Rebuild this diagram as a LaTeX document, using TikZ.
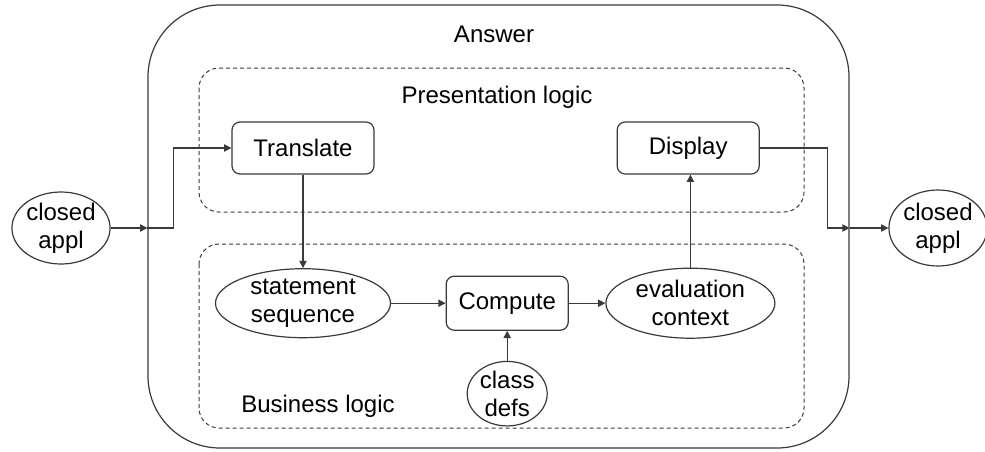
\documentclass[tikz,border=0pt]{standalone}
\usepackage{fontspec}
\setmainfont{Liberation Sans}
\usepackage{tikz}
\usetikzlibrary{shapes.geometric, arrows.meta, positioning}
\definecolor{linegray}{HTML}{3A3A3A}
\tikzstyle{procbox} = [rectangle, draw=linegray, line width=0.6pt, rounded corners=4pt, minimum width=71pt, minimum height=26pt, align=center]
\tikzstyle{dataell} = [ellipse, draw=linegray, line width=0.6pt, inner sep=0pt, align=center]
\tikzstyle{layerbox} = [draw=linegray, line width=0.5pt, dash pattern=on 2pt off 1.5pt, rounded corners=10pt]
\tikzstyle{arrow} = [draw=linegray, line width=0.6pt, -{Triangle[length=3.6pt, width=3.6pt]}]

\begin{document}
\begin{tikzpicture}[x=0.5pt, y=-0.5pt, font=\fontsize{12}{14}\selectfont]
    \useasboundingbox (0,0) rectangle (985,451);

    % Outer component box
    \node[draw=linegray, line width=0.6pt, rounded corners=36pt, minimum width=350.5pt, minimum height=221.5pt] (answer) at (498.5,226.5) {};
    \node (answertitle) at (494,34) {Answer};

    % Two logic layers
    \draw[layerbox] (199,68) rectangle (804,212);
    \draw[layerbox] (199,244) rectangle (804,428);
    \node (prestitle) at (497,97) {Presentation logic};
    \node (bustitle) at (318,406) {Business logic};

    % Presentation steps
    \node[procbox] (translate) at (303,148) {Translate};
    \node[procbox, right=121pt of translate] (display) {Display};

    % Business steps
    \node[dataell, minimum width=87.5pt, minimum height=34.5pt, below=46.75pt of translate] (statement) {statement\\sequence};
    \node[procbox, minimum width=61pt, minimum height=27pt, right=27.25pt of statement] (compute) {Compute};
    \node[dataell, minimum width=84.5pt, minimum height=35pt, right=18.25pt of compute] (evaluation) {evaluation\\context};
    \node[dataell, minimum width=40pt, minimum height=31pt, below=15pt of compute] (classdefs) {class\\defs};

    % Applications on both sides
    \node[dataell, minimum width=49pt, minimum height=36pt] (leftappl) at (61,228) {closed\\appl};
    \node[dataell, minimum width=47pt, minimum height=38pt] (rightappl) at (938,228) {closed\\appl};
    \coordinate (inleft) at (leftappl -| answer.west);
    \coordinate (outright) at (rightappl -| answer.east);

    % Arrows - input side
    \draw[arrow] (leftappl) -- (inleft);
    \draw[arrow] (inleft) -- ++(26,0) |- (translate);

    % Arrows - inside the layers
    \draw[arrow] (translate) -- (statement);
    \draw[arrow] (statement) -- (compute);
    \draw[arrow] (compute) -- (evaluation);
    \draw[arrow] (classdefs) -- (compute);
    \draw[arrow] (evaluation.north) -- (evaluation.north |- display.south);

    % Arrows - output side
    \draw[arrow] (display.east) -- ++(68,0) |- (outright);
    \draw[arrow] (outright) -- (rightappl);

\end{tikzpicture}
\end{document}
